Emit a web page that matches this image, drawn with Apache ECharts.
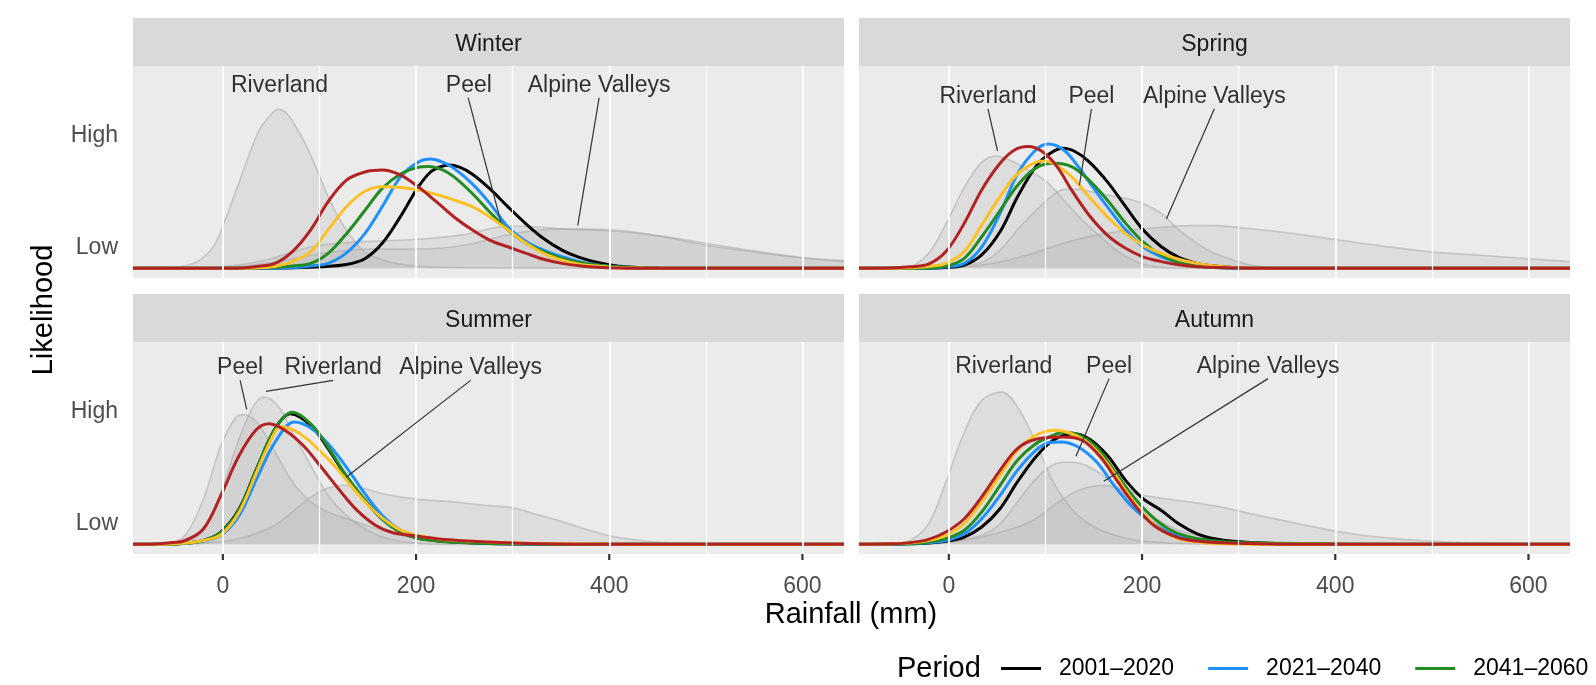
<!DOCTYPE html>
<html><head><meta charset="utf-8">
<script src="https://cdn.jsdelivr.net/npm/echarts@6/dist/echarts.min.js"></script>
<style>html,body{margin:0;padding:0;background:#fff}#c{width:1596px;height:685px}</style>
</head><body><div id="c"></div>
<script>
// ---------- categories / ticks ----------
const SEASONS = ['Winter', 'Spring', 'Summer', 'Autumn'];
const REGIONS = ['Riverland', 'Peel', 'Alpine Valleys'];
const PERIODS = ['2001–2020', '2021–2040', '2041–2060', '2061–2080', '2081–2100'];
const X_TICKS = [0, 200, 400, 600];
const X_GRID = [0, 100, 200, 300, 400, 500, 600];
const Y_TICKS = [0.11, 0.69];
const Y_TICK_LABELS = ['Low', 'High'];

// ---------- grey regional densities [rainfall mm, relative likelihood] ----------
const WINTER_RIVERLAND = [[-93,0],[-60,0.003],[-40,0.012],[-25,0.04],[-10,0.11],[0,0.22],[12,0.38],[25,0.56],[38,0.72],[50,0.8],[57,0.825],[65,0.81],[75,0.74],[88,0.62],[100,0.48],[112,0.34],[125,0.22],[138,0.13],[150,0.075],[175,0.03],[200,0.012],[250,0.003],[643,0]];
const WINTER_PEEL = [[-93,0],[-20,0.003],[20,0.02],[50,0.05],[75,0.09],[100,0.12],[150,0.14],[200,0.15],[250,0.175],[280,0.21],[300,0.22],[325,0.215],[350,0.205],[400,0.195],[450,0.17],[500,0.13],[550,0.09],[600,0.055],[643,0.035]];
const WINTER_ALPINE = [[-93,0],[0,0.004],[50,0.03],[100,0.075],[150,0.1],[200,0.1],[250,0.12],[300,0.18],[350,0.205],[400,0.2],[430,0.185],[460,0.16],[500,0.12],[550,0.085],[600,0.055],[643,0.04]];

const SPRING_RIVERLAND = [[-93,0],[-60,0.002],[-40,0.01],[-21,0.078],[-3,0.23],[16,0.42],[34,0.55],[49,0.583],[64,0.56],[82,0.51],[101,0.45],[119,0.355],[138,0.25],[157,0.164],[175,0.087],[194,0.035],[212,0.01],[240,0.002],[643,0]];
const SPRING_PEEL = [[-93,0],[-10,0.002],[20,0.02],[34,0.03],[53,0.095],[71,0.2],[90,0.3],[108,0.38],[120,0.41],[135,0.41],[150,0.395],[164,0.38],[183,0.363],[201,0.337],[220,0.285],[238,0.2],[257,0.13],[275,0.078],[294,0.043],[312,0.017],[331,0.005],[360,0],[643,0]];
const SPRING_ALPINE = [[-93,0],[-20,0.002],[25,0.012],[50,0.03],[75,0.06],[100,0.1],[125,0.14],[150,0.17],[175,0.19],[200,0.205],[225,0.215],[250,0.222],[275,0.222],[300,0.212],[350,0.185],[400,0.15],[450,0.115],[500,0.085],[550,0.068],[600,0.05],[643,0.035]];

const SUMMER_RIVERLAND = [[-93,0],[-55,0.003],[-39,0.012],[-20,0.073],[-2,0.27],[17,0.55],[32,0.72],[43,0.765],[58,0.713],[72,0.583],[91,0.41],[109,0.254],[128,0.15],[147,0.081],[165,0.038],[184,0.016],[202,0.005],[240,0],[643,0]];
const SUMMER_PEEL = [[-93,0],[-57,0.005],[-39,0.047],[-20,0.237],[-2,0.514],[13,0.656],[20,0.673],[35,0.635],[54,0.48],[72,0.324],[91,0.22],[109,0.168],[128,0.133],[147,0.102],[165,0.073],[184,0.047],[202,0.03],[239,0.012],[276,0.004],[320,0],[643,0]];
const SUMMER_ALPINE = [[-93,0],[-40,0.002],[-20,0.006],[17,0.03],[54,0.1],[72,0.168],[91,0.246],[109,0.292],[125,0.306],[147,0.29],[165,0.263],[202,0.234],[239,0.22],[276,0.2],[300,0.19],[325,0.155],[350,0.12],[375,0.08],[400,0.045],[425,0.025],[450,0.012],[500,0.004],[550,0.001],[643,0]];

const AUTUMN_RIVERLAND = [[-93,0],[-60,0.004],[-40,0.02],[-21,0.107],[-3,0.324],[16,0.583],[34,0.747],[55,0.79],[71,0.713],[90,0.53],[108,0.324],[127,0.185],[145,0.107],[164,0.06],[183,0.033],[201,0.017],[240,0.005],[300,0],[643,0]];
const AUTUMN_PEEL = [[-93,0],[-40,0.002],[-3,0.012],[34,0.047],[53,0.107],[71,0.22],[90,0.34],[108,0.413],[123,0.427],[142,0.41],[164,0.34],[183,0.254],[201,0.176],[220,0.116],[238,0.073],[257,0.047],[275,0.03],[312,0.01],[350,0.002],[400,0],[643,0]];
const AUTUMN_ALPINE = [[-93,0],[-40,0.002],[-3,0.008],[34,0.038],[71,0.09],[90,0.133],[108,0.2],[127,0.263],[145,0.298],[160,0.306],[183,0.28],[201,0.254],[238,0.228],[275,0.2],[290,0.185],[312,0.16],[350,0.12],[389,0.08],[424,0.05],[461,0.03],[487,0.02],[530,0.01],[586,0.004],[643,0.002]];

// ---------- projected period densities ----------
const WINTER_2001 = [[-93,0],[40,0],[75,0.003],[100,0.008],[128,0.02],[147,0.05],[165,0.13],[184,0.27],[202,0.42],[215,0.5],[225,0.527],[234,0.536],[245,0.525],[258,0.49],[276,0.415],[295,0.32],[314,0.23],[332,0.155],[351,0.095],[369,0.057],[388,0.03],[406,0.014],[425,0.006],[450,0.002],[500,0],[643,0]];
const WINTER_2021 = [[-93,0],[40,0],[75,0.005],[90,0.012],[109,0.026],[128,0.08],[147,0.18],[165,0.32],[184,0.475],[202,0.55],[215,0.567],[228,0.55],[239,0.52],[258,0.44],[276,0.34],[295,0.216],[314,0.14],[332,0.095],[351,0.06],[369,0.035],[388,0.017],[406,0.008],[425,0.003],[460,0],[643,0]];
const WINTER_2041 = [[-93,0],[30,0],[55,0.005],[72,0.012],[91,0.026],[109,0.078],[128,0.18],[147,0.3],[165,0.415],[184,0.49],[202,0.524],[213,0.528],[228,0.51],[239,0.476],[258,0.39],[276,0.294],[295,0.2],[314,0.13],[332,0.087],[351,0.052],[369,0.03],[388,0.016],[406,0.008],[430,0.003],[460,0],[643,0]];
const WINTER_2061 = [[-93,0],[20,0],[40,0.004],[54,0.01],[72,0.035],[91,0.087],[109,0.2],[128,0.32],[147,0.4],[165,0.424],[184,0.42],[202,0.407],[221,0.384],[239,0.355],[258,0.32],[276,0.268],[295,0.2],[314,0.13],[332,0.078],[351,0.043],[369,0.022],[388,0.012],[406,0.005],[430,0.002],[460,0],[643,0]];
const WINTER_2081 = [[-93,0],[10,0],[35,0.01],[54,0.026],[72,0.087],[91,0.2],[109,0.346],[128,0.458],[147,0.5],[165,0.51],[184,0.484],[202,0.424],[221,0.346],[239,0.268],[258,0.2],[276,0.147],[295,0.112],[314,0.078],[332,0.047],[351,0.026],[369,0.014],[388,0.006],[410,0.002],[440,0],[643,0]];

const SPRING_2001 = [[-93,0],[-20,0],[-3,0.004],[16,0.017],[34,0.07],[53,0.19],[71,0.37],[90,0.528],[105,0.597],[118,0.623],[131,0.605],[145,0.554],[164,0.45],[183,0.32],[201,0.2],[220,0.112],[238,0.057],[257,0.026],[275,0.012],[294,0.005],[330,0],[643,0]];
const SPRING_2021 = [[-93,0],[-25,0],[-3,0.008],[16,0.026],[34,0.11],[53,0.285],[71,0.49],[90,0.614],[103,0.645],[119,0.614],[134,0.528],[145,0.45],[164,0.32],[183,0.2],[201,0.112],[220,0.06],[238,0.03],[257,0.014],[275,0.005],[310,0],[643,0]];
const SPRING_2041 = [[-93,0],[-30,0],[-3,0.012],[16,0.052],[34,0.164],[53,0.3],[71,0.43],[90,0.52],[108,0.545],[127,0.528],[145,0.458],[164,0.355],[183,0.234],[201,0.138],[220,0.069],[238,0.03],[257,0.012],[275,0.004],[310,0],[643,0]];
const SPRING_2061 = [[-93,0],[-45,0.002],[-21,0.01],[-3,0.026],[16,0.087],[34,0.225],[53,0.372],[71,0.49],[90,0.55],[100,0.557],[108,0.545],[127,0.476],[145,0.372],[164,0.268],[183,0.18],[201,0.12],[220,0.078],[238,0.047],[257,0.026],[275,0.012],[294,0.005],[330,0],[643,0]];
const SPRING_2081 = [[-93,0],[-55,0.003],[-40,0.008],[-21,0.022],[-3,0.087],[16,0.234],[34,0.407],[53,0.545],[68,0.614],[82,0.632],[97,0.605],[112,0.528],[127,0.407],[145,0.277],[164,0.173],[183,0.104],[201,0.06],[220,0.035],[238,0.019],[257,0.009],[290,0.003],[330,0],[643,0]];

const SUMMER_2001 = [[-93,0],[-55,0.002],[-39,0.006],[-20,0.02],[-2,0.064],[17,0.185],[35,0.393],[54,0.6],[70,0.678],[91,0.617],[109,0.497],[128,0.35],[147,0.228],[165,0.133],[184,0.064],[202,0.033],[221,0.019],[239,0.012],[276,0.005],[320,0.002],[380,0],[643,0]];
const SUMMER_2021 = [[-93,0],[-55,0.002],[-39,0.006],[-20,0.017],[-2,0.047],[17,0.15],[35,0.34],[54,0.53],[74,0.635],[91,0.604],[109,0.522],[128,0.4],[147,0.263],[165,0.15],[184,0.073],[202,0.038],[239,0.015],[276,0.006],[330,0.002],[400,0],[643,0]];
const SUMMER_2041 = [[-93,0],[-55,0.002],[-39,0.006],[-20,0.02],[-2,0.062],[17,0.18],[35,0.39],[54,0.6],[72,0.685],[91,0.625],[109,0.505],[128,0.355],[147,0.23],[165,0.13],[184,0.062],[202,0.032],[221,0.018],[239,0.011],[276,0.005],[320,0.002],[380,0],[643,0]];
const SUMMER_2061 = [[-93,0],[-55,0.002],[-39,0.007],[-20,0.02],[-2,0.05],[17,0.168],[35,0.375],[54,0.583],[61,0.61],[80,0.574],[98,0.497],[117,0.4],[135,0.29],[154,0.185],[173,0.107],[191,0.06],[221,0.029],[258,0.016],[314,0.006],[388,0.002],[450,0],[643,0]];
const SUMMER_2081 = [[-93,0],[-70,0.002],[-57,0.007],[-39,0.02],[-20,0.081],[-2,0.254],[17,0.462],[35,0.597],[48,0.626],[65,0.59],[83,0.514],[102,0.4],[121,0.28],[139,0.176],[158,0.099],[176,0.06],[195,0.047],[221,0.029],[258,0.016],[314,0.005],[380,0.001],[643,0]];

const AUTUMN_2001 = [[-93,0],[-50,0.002],[-25,0.006],[-3,0.016],[16,0.038],[34,0.09],[53,0.185],[71,0.324],[90,0.453],[108,0.54],[129,0.574],[145,0.548],[164,0.462],[183,0.332],[201,0.237],[220,0.176],[238,0.107],[257,0.055],[275,0.029],[294,0.016],[331,0.006],[387,0.002],[450,0],[643,0]];
const AUTUMN_2021 = [[-93,0],[-50,0.002],[-25,0.007],[-3,0.02],[16,0.055],[34,0.133],[53,0.254],[71,0.384],[90,0.488],[104,0.528],[116,0.531],[134,0.505],[153,0.427],[171,0.306],[190,0.194],[209,0.116],[227,0.064],[246,0.033],[264,0.017],[294,0.008],[350,0.003],[420,0],[643,0]];
const AUTUMN_2041 = [[-93,0],[-50,0.003],[-25,0.01],[-3,0.03],[16,0.073],[34,0.168],[53,0.306],[71,0.436],[90,0.522],[108,0.566],[119,0.58],[134,0.57],[153,0.505],[171,0.384],[190,0.254],[209,0.15],[227,0.081],[246,0.042],[275,0.017],[312,0.008],[387,0.003],[450,0],[643,0]];
const AUTUMN_2061 = [[-93,0],[-60,0.003],[-40,0.008],[-21,0.02],[-3,0.047],[16,0.107],[34,0.22],[53,0.358],[71,0.488],[90,0.566],[110,0.592],[127,0.574],[145,0.522],[164,0.419],[183,0.28],[201,0.159],[220,0.073],[238,0.029],[257,0.012],[275,0.004],[310,0],[643,0]];
const AUTUMN_2081 = [[-93,0],[-60,0.003],[-40,0.009],[-21,0.026],[-3,0.064],[16,0.133],[34,0.246],[53,0.384],[71,0.497],[90,0.545],[118,0.557],[138,0.54],[157,0.453],[175,0.324],[194,0.194],[212,0.099],[231,0.047],[249,0.021],[275,0.01],[312,0.004],[360,0],[643,0]];

// ---------- region annotations (data coords) ----------
const WINTER_LABELS = [['Riverland',58.7,0.95],['Peel',254.7,0.95],['Alpine Valleys',389.5,0.95]];
const WINTER_LEADERS = [[254,0.885,288,0.237],[389.5,0.885,367.4,0.223]];
const SPRING_LABELS = [['Riverland',40.5,0.89],['Peel',147.6,0.89],['Alpine Valleys',274.9,0.89]];
const SPRING_LEADERS = [[40.5,0.828,50.4,0.609],[147.6,0.828,135.2,0.432],[274.9,0.828,225.2,0.256]];
const SUMMER_LABELS = [['Peel',17.9,0.915],['Riverland',114.2,0.915],['Alpine Valleys',256.5,0.915]];
const SUMMER_LEADERS = [[17.9,0.851,24.7,0.70],[114.2,0.851,44.8,0.794],[256.5,0.851,127.6,0.348]];
const AUTUMN_LABELS = [['Riverland',56.8,0.923],['Peel',165.9,0.923],['Alpine Valleys',330.4,0.923]];
const AUTUMN_LEADERS = [[165.9,0.86,131.6,0.457],[330.4,0.86,160.4,0.327]];

// ---------- assemble ----------
const GREY = {
  Winter: [WINTER_RIVERLAND, WINTER_PEEL, WINTER_ALPINE],
  Spring: [SPRING_RIVERLAND, SPRING_PEEL, SPRING_ALPINE],
  Summer: [SUMMER_RIVERLAND, SUMMER_PEEL, SUMMER_ALPINE],
  Autumn: [AUTUMN_RIVERLAND, AUTUMN_PEEL, AUTUMN_ALPINE]
};
const LINES = {
  Winter: [WINTER_2001, WINTER_2021, WINTER_2041, WINTER_2061, WINTER_2081],
  Spring: [SPRING_2001, SPRING_2021, SPRING_2041, SPRING_2061, SPRING_2081],
  Summer: [SUMMER_2001, SUMMER_2021, SUMMER_2041, SUMMER_2061, SUMMER_2081],
  Autumn: [AUTUMN_2001, AUTUMN_2021, AUTUMN_2041, AUTUMN_2061, AUTUMN_2081]
};
const ANN = {
  Winter: [WINTER_LABELS, WINTER_LEADERS],
  Spring: [SPRING_LABELS, SPRING_LEADERS],
  Summer: [SUMMER_LABELS, SUMMER_LEADERS],
  Autumn: [AUTUMN_LABELS, AUTUMN_LEADERS]
};

const COLORS = ['#000000', '#1E90FF', '#228B22', '#FFC125', '#B22222'];
const FONT = 'Liberation Sans, Arial, Helvetica, sans-serif';
const PANEL_W = 711, PANEL_H = 212, STRIP_H = 48;
const X_MIN = -93, X_MAX = 643, Y_MIN = -0.05, Y_MAX = 1.05;
const POS = [[133, 66], [859, 66], [133, 342], [859, 342]];

const grids = [], xAxes = [], yAxes = [], series = [], graphics = [];

SEASONS.forEach((s, i) => {
  const [left, top] = POS[i];
  const bottom = i >= 2, leftCol = i % 2 === 0;
  grids.push({left, top, width: PANEL_W, height: PANEL_H, show: true,
    backgroundColor: '#EBEBEB', borderWidth: 0, containLabel: false});
  xAxes.push({type: 'value', gridIndex: i, min: X_MIN, max: X_MAX,
    axisLine: {show: false}, splitLine: {show: false}, axisTick: {show: false},
    axisLabel: {show: bottom, customValues: X_TICKS, margin: 21, fontSize: 23, color: '#4D4D4D', fontFamily: FONT}});
  yAxes.push({type: 'value', gridIndex: i, min: Y_MIN, max: Y_MAX,
    axisLine: {show: false}, splitLine: {show: false}, axisTick: {show: false},
    axisLabel: {show: leftCol, customValues: Y_TICKS, margin: 15, fontSize: 23, color: '#4D4D4D', fontFamily: FONT,
      formatter: v => { const k = Y_TICKS.findIndex(t => Math.abs(t - v) < 1e-6); return k >= 0 ? Y_TICK_LABELS[k] : ''; }}});

  // strip
  graphics.push({type: 'rect', shape: {x: left, y: top - STRIP_H, width: PANEL_W, height: STRIP_H},
    style: {fill: '#D9D9D9'}, silent: true});
  graphics.push({type: 'text', x: left + PANEL_W / 2, y: top - STRIP_H / 2 + 3,
    style: {text: s, fontSize: 23, fill: '#1A1A1A', fontFamily: FONT, align: 'center', verticalAlign: 'middle'}, silent: true});

  // x-axis tick marks under bottom-row panels (axis decoration, same linear map as the axis)
  if (bottom) {
    X_TICKS.forEach(v => {
      const px = left + (v - X_MIN) / (X_MAX - X_MIN) * PANEL_W;
      graphics.push({type: 'rect', shape: {x: px - 1.1, y: top + PANEL_H, width: 2.2, height: 6},
        style: {fill: '#333333'}, silent: true, z: 100});
    });
  }

  // white grid lines
  series.push({type: 'line', xAxisIndex: i, yAxisIndex: i, data: [[X_MIN, Y_MIN]], symbol: 'none',
    lineStyle: {opacity: 0}, z: 1, silent: true, animation: false,
    markLine: {silent: true, symbol: ['none', 'none'], label: {show: false}, animation: false,
      data: X_GRID.map(v => ({xAxis: v, lineStyle: {color: '#FFFFFF', width: v % 200 === 0 ? 2 : 1.2, type: 'solid'}}))}});

  // grey regional densities
  GREY[s].forEach((d, r) => {
    series.push({type: 'line', name: REGIONS[r], xAxisIndex: i, yAxisIndex: i, data: d,
      smooth: 0.35, symbol: 'none', z: 2, silent: true, animation: false,
      lineStyle: {color: 'rgba(170,170,170,0.55)', width: 1.6},
      areaStyle: {color: 'rgba(160,160,160,0.25)'}});
  });

  // period lines
  LINES[s].forEach((d, p) => {
    series.push({type: 'line', name: PERIODS[p], xAxisIndex: i, yAxisIndex: i, data: d,
      smooth: 0.35, symbol: 'none', z: 3, silent: true, animation: false,
      color: COLORS[p], itemStyle: {color: COLORS[p]},
      lineStyle: {color: COLORS[p], width: 3}});
  });

  // annotations
  const [labs, leads] = ANN[s];
  series.push({type: 'scatter', xAxisIndex: i, yAxisIndex: i, z: 5, silent: true, animation: false,
    symbolSize: 1, itemStyle: {color: 'rgba(0,0,0,0)'},
    data: labs.map(a => ({name: a[0], value: [a[1], a[2]]})),
    label: {show: true, position: 'inside', formatter: '{b}', fontSize: 23, color: '#000000', fontFamily: FONT},
    markLine: {silent: true, symbol: ['none', 'none'], label: {show: false}, animation: false,
      lineStyle: {color: '#333333', width: 1.2, type: 'solid'},
      data: leads.map(l => [{coord: [l[0], l[1]]}, {coord: [l[2], l[3]]}])}});
});

// axis titles & legend title
graphics.push({type: 'text', x: 851, y: 615, style: {text: 'Rainfall (mm)', fontSize: 29, fill: '#000', fontFamily: FONT, align: 'center', verticalAlign: 'middle'}, silent: true});
graphics.push({type: 'text', x: 44, y: 310, rotation: Math.PI / 2, style: {text: 'Likelihood', fontSize: 29, fill: '#000', fontFamily: FONT, align: 'center', verticalAlign: 'middle'}, silent: true});
graphics.push({type: 'text', x: 897, y: 669, style: {text: 'Period', fontSize: 29, fill: '#000', fontFamily: FONT, align: 'left', verticalAlign: 'middle'}, silent: true});

const chart = echarts.init(document.getElementById('c'), null, {renderer: 'canvas'});
chart.setOption({
  animation: false,
  backgroundColor: '#FFFFFF',
  grid: grids, xAxis: xAxes, yAxis: yAxes, series,
  graphic: {elements: graphics},
  legend: {data: PERIODS, left: 1001, top: 657, padding: 0, orient: 'horizontal', width: 4000,
    icon: 'rect', itemWidth: 40, itemHeight: 3, itemGap: 34, selectedMode: false,
    textStyle: {fontSize: 23, color: '#000', fontFamily: FONT, padding: [0, 0, 0, 13]}}
});
</script></body></html>
